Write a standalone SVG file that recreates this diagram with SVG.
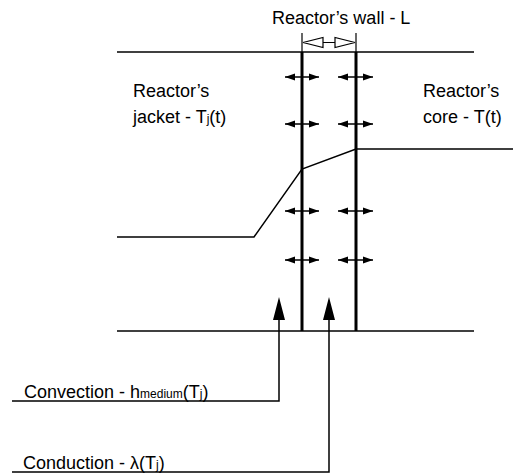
<svg xmlns="http://www.w3.org/2000/svg" width="514" height="475" viewBox="0 0 514 475">
<defs>
<style>
.t{font-family:"Liberation Sans","Noto Sans",Arial,sans-serif;font-size:18px;fill:#000}
.sub{font-size:12px}
.thin{stroke:#000;stroke-width:1.5;fill:none}
.wall{stroke:#000;stroke-width:3;fill:none}
.da{stroke:#000;stroke-width:1.3;fill:none;marker-start:url(#ah);marker-end:url(#ah)}
</style>
<marker id="ah" viewBox="0 0 10 8" refX="10" refY="4" markerWidth="10" markerHeight="8" markerUnits="userSpaceOnUse" orient="auto-start-reverse">
<path d="M0,0.5 L10,4 L0,7.5 Z" fill="#000"/>
</marker>
</defs>
<g id="labels">
<text class="t" x="272" y="24">Reactor’s wall - L</text>
<text class="t" x="133" y="97">Reactor’s</text>
<text class="t" x="133" y="123">jacket - T<tspan class="sub">j</tspan>(t)</text>
<text class="t" x="423" y="97">Reactor’s</text>
<text class="t" x="423" y="123">core - T(t)</text>
<text class="t" x="24" y="398">Convection - h<tspan class="sub">medium</tspan>(T<tspan class="sub">j</tspan>)</text>
<text class="t" x="23" y="469">Conduction - λ(T<tspan class="sub">j</tspan>)</text>
</g>
<g id="reactor">
<line class="thin" x1="117" y1="52" x2="474" y2="52"/>
<line class="thin" x1="117" y1="331" x2="474" y2="331"/>
<line class="wall" x1="302" y1="52" x2="302" y2="331"/>
<line class="wall" x1="356" y1="52" x2="356" y2="331"/>
<polyline class="thin" points="117,237 254,237 302,169 356,149 513,149"/>
</g>
<g id="dimension">
<line x1="302" y1="33" x2="302" y2="52" stroke="#000" stroke-width="1.2"/>
<line x1="356" y1="33" x2="356" y2="52" stroke="#000" stroke-width="1.2"/>
<path d="M303,42.5 L323,37.5 L323,47.5 Z M323,42.5 L335,42.5 M355,42.5 L335,37.5 L335,47.5 Z" fill="#fff" stroke="#000" stroke-width="1.2"/>
</g>
<g id="connectors">
<line class="da" x1="285" y1="77" x2="319" y2="77"/>
<line class="da" x1="338" y1="77" x2="373" y2="77"/>
<line class="da" x1="285" y1="124" x2="319" y2="124"/>
<line class="da" x1="338" y1="124" x2="373" y2="124"/>
<line class="da" x1="285" y1="211" x2="319" y2="211"/>
<line class="da" x1="338" y1="211" x2="373" y2="211"/>
<line class="da" x1="285" y1="260" x2="319" y2="260"/>
<line class="da" x1="338" y1="260" x2="373" y2="260"/>
<path d="M279,297 L285,320 L273,320 Z M329,297 L335,320 L323,320 Z" fill="#000"/>
<polyline class="thin" points="279,318 279,401 12,401"/>
<polyline class="thin" points="329,318 329,472 12,472"/>
</g>
</svg>
